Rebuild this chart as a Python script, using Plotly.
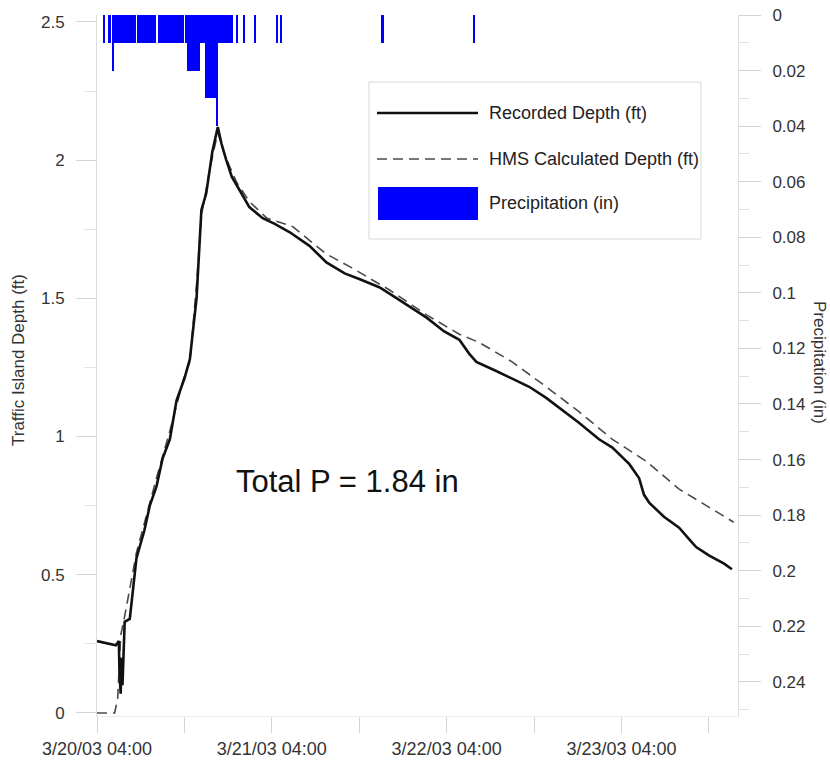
import plotly.graph_objects as go

# ---------------- data ----------------
rec_time = ["2003-03-20 04:00", "2003-03-20 05:45", "2003-03-20 06:35", "2003-03-20 07:00",
            "2003-03-20 07:05", "2003-03-20 07:15", "2003-03-20 07:23", "2003-03-20 07:30",
            "2003-03-20 07:40", "2003-03-20 07:48", "2003-03-20 08:30", "2003-03-20 08:55",
            "2003-03-20 09:25", "2003-03-20 10:30", "2003-03-20 11:15", "2003-03-20 12:10",
            "2003-03-20 13:00", "2003-03-20 14:00", "2003-03-20 14:55", "2003-03-20 16:00",
            "2003-03-20 16:45", "2003-03-20 17:15", "2003-03-20 17:40", "2003-03-20 18:05",
            "2003-03-20 18:20", "2003-03-20 19:00", "2003-03-20 19:30", "2003-03-20 19:50",
            "2003-03-20 20:35", "2003-03-20 21:05", "2003-03-20 21:45", "2003-03-20 22:30",
            "2003-03-20 23:10", "2003-03-21 00:00", "2003-03-21 00:55", "2003-03-21 02:45",
            "2003-03-21 04:20", "2003-03-21 06:25", "2003-03-21 09:10", "2003-03-21 11:30",
            "2003-03-21 14:00", "2003-03-21 16:00", "2003-03-21 18:45", "2003-03-21 20:35",
            "2003-03-21 22:55", "2003-03-22 01:15", "2003-03-22 03:40", "2003-03-22 05:45",
            "2003-03-22 07:05", "2003-03-22 08:05", "2003-03-22 10:35", "2003-03-22 13:00",
            "2003-03-22 15:20", "2003-03-22 17:40", "2003-03-22 20:10", "2003-03-22 22:10",
            "2003-03-23 00:55", "2003-03-23 02:45", "2003-03-23 05:05", "2003-03-23 06:25",
            "2003-03-23 07:05", "2003-03-23 07:50", "2003-03-23 09:50", "2003-03-23 11:55",
            "2003-03-23 13:15", "2003-03-23 14:15", "2003-03-23 16:00", "2003-03-23 18:05",
            "2003-03-23 19:10"]
rec_depth = [0.26, 0.25, 0.245, 0.26, 0.15, 0.07, 0.20, 0.10, 0.28, 0.33, 0.34, 0.45,
             0.56, 0.66, 0.75, 0.82, 0.92, 0.99, 1.13, 1.21, 1.28, 1.40, 1.50, 1.70,
             1.82, 1.88, 1.96, 2.03, 2.12, 2.06, 2.00, 1.94, 1.91, 1.87, 1.83, 1.79,
             1.77, 1.74, 1.69, 1.63, 1.59, 1.57, 1.54, 1.51, 1.47, 1.43, 1.38, 1.35,
             1.30, 1.27, 1.24, 1.21, 1.18, 1.14, 1.09, 1.05, 0.99, 0.96, 0.90, 0.85,
             0.79, 0.76, 0.71, 0.67, 0.63, 0.60, 0.57, 0.54, 0.52]

hms_time = ["2003-03-20 04:00", "2003-03-20 06:25", "2003-03-20 06:50", "2003-03-20 07:15",
            "2003-03-20 07:48", "2003-03-20 09:25", "2003-03-20 12:10", "2003-03-20 14:00",
            "2003-03-20 16:00", "2003-03-20 16:45", "2003-03-20 17:40", "2003-03-20 18:20",
            "2003-03-20 19:30", "2003-03-20 20:35", "2003-03-20 21:30", "2003-03-20 23:10",
            "2003-03-21 00:55", "2003-03-21 03:20", "2003-03-21 06:50", "2003-03-21 11:30",
            "2003-03-21 15:00", "2003-03-21 20:10", "2003-03-22 01:15", "2003-03-22 05:45",
            "2003-03-22 08:30", "2003-03-22 13:00", "2003-03-22 17:40", "2003-03-22 22:10",
            "2003-03-23 02:45", "2003-03-23 07:25", "2003-03-23 11:55", "2003-03-23 19:25"]
hms_depth = [0.0, 0.0, 0.05, 0.28, 0.35, 0.58, 0.85, 1.02, 1.22, 1.27, 1.55, 1.80,
             1.97, 2.10, 2.02, 1.92, 1.85, 1.79, 1.76, 1.66, 1.61, 1.53, 1.44, 1.37,
             1.34, 1.27, 1.18, 1.09, 0.99, 0.91, 0.81, 0.69]

precip_time = ["2003-03-20 05:00", "2003-03-20 05:45", "2003-03-20 06:15",
               "2003-03-20 06:30", "2003-03-20 06:45", "2003-03-20 07:00", "2003-03-20 07:15",
               "2003-03-20 07:30", "2003-03-20 07:45", "2003-03-20 08:00", "2003-03-20 08:15",
               "2003-03-20 08:30", "2003-03-20 08:45", "2003-03-20 09:00", "2003-03-20 09:15",
               "2003-03-20 09:45", "2003-03-20 10:00", "2003-03-20 10:15", "2003-03-20 10:30",
               "2003-03-20 10:45", "2003-03-20 11:00", "2003-03-20 11:15", "2003-03-20 11:30",
               "2003-03-20 11:45", "2003-03-20 12:00",
               "2003-03-20 12:30", "2003-03-20 12:45", "2003-03-20 13:00", "2003-03-20 13:15",
               "2003-03-20 13:30", "2003-03-20 13:45", "2003-03-20 14:00", "2003-03-20 14:15",
               "2003-03-20 14:30", "2003-03-20 14:45", "2003-03-20 15:00", "2003-03-20 15:15",
               "2003-03-20 15:30", "2003-03-20 15:45",
               "2003-03-20 16:15", "2003-03-20 16:30", "2003-03-20 16:45", "2003-03-20 17:00",
               "2003-03-20 17:15", "2003-03-20 17:30", "2003-03-20 17:45", "2003-03-20 18:00",
               "2003-03-20 18:15", "2003-03-20 18:30", "2003-03-20 18:45", "2003-03-20 19:00",
               "2003-03-20 19:15", "2003-03-20 19:30", "2003-03-20 19:45", "2003-03-20 20:00",
               "2003-03-20 20:15", "2003-03-20 20:30", "2003-03-20 20:45", "2003-03-20 21:00",
               "2003-03-20 21:15", "2003-03-20 21:30", "2003-03-20 21:45", "2003-03-20 22:00",
               "2003-03-20 22:15", "2003-03-20 22:30",
               "2003-03-20 23:15", "2003-03-21 00:15", "2003-03-21 01:45", "2003-03-21 04:45",
               "2003-03-21 05:15", "2003-03-21 19:15", "2003-03-22 07:45"]
precip_in = [0.01, 0.01, 0.02,
             0.01, 0.01, 0.01, 0.01, 0.01, 0.01, 0.01, 0.01, 0.01, 0.01, 0.01, 0.01,
             0.01, 0.01, 0.01, 0.01, 0.01, 0.01, 0.01, 0.01, 0.01, 0.01,
             0.01, 0.01, 0.01, 0.01, 0.01, 0.01, 0.01, 0.01, 0.01, 0.01, 0.01, 0.01,
             0.01, 0.01,
             0.01, 0.02, 0.02, 0.02, 0.02, 0.02, 0.02, 0.02,
             0.01, 0.01, 0.01, 0.03, 0.03, 0.03, 0.03, 0.03, 0.03, 0.04,
             0.01, 0.01, 0.01, 0.01, 0.01, 0.01, 0.01, 0.01,
             0.01, 0.01, 0.01, 0.01, 0.01, 0.01, 0.01]

x_tick_vals = ["2003-03-20 04:00", "2003-03-21 04:00", "2003-03-22 04:00", "2003-03-23 04:00"]
x_tick_text = ["3/20/03 04:00", "3/21/03 04:00", "3/22/03 04:00", "3/23/03 04:00"]
y_tick_vals = [0, 0.5, 1, 1.5, 2, 2.5]
y_tick_text = ["0", "0.5", "1", "1.5", "2", "2.5"]
p_tick_vals = [0, 0.02, 0.04, 0.06, 0.08, 0.1, 0.12, 0.14, 0.16, 0.18, 0.2, 0.22, 0.24]
p_tick_text = ["0", "0.02", "0.04", "0.06", "0.08", "0.1", "0.12", "0.14", "0.16",
               "0.18", "0.2", "0.22", "0.24"]

legend_labels = ["Recorded Depth (ft)", "HMS Calculated Depth (ft)", "Precipitation (in)"]

# ---------------- layout geometry (screen pixels) ----------------
W, H = 830, 762
PL, PR, PT, PB = 97, 738, 15, 716   # plot area on screen
ML, MR, MT, MB = PL, W - PR, PT, H - PB


def px(x):
    return (x - PL) / (PR - PL)


def py(y):
    return (PB - y) / (PB - PT)


FONT = "Liberation Sans, Arial, sans-serif"
TICKC = "#d4d4d4"
TXT = "#333333"

fig = go.Figure()

fig.add_trace(go.Bar(x=precip_time, y=precip_in, yaxis="y2", width=15 * 60 * 1000,
                     marker=dict(color="#0000ff", line=dict(width=0)),
                     name=legend_labels[2], showlegend=False))
fig.add_trace(go.Scatter(x=hms_time, y=hms_depth, mode="lines",
                         line=dict(color="#4a4a4a", width=1.6, dash="10px,6px"),
                         name=legend_labels[1], showlegend=False))
fig.add_trace(go.Scatter(x=rec_time, y=rec_depth, mode="lines",
                         line=dict(color="#111111", width=2.6),
                         name=legend_labels[0], showlegend=False))

fig.update_layout(
    width=W, height=H,
    margin=dict(l=ML, r=MR, t=MT, b=MB, autoexpand=False),
    paper_bgcolor="white", plot_bgcolor="white",
    font=dict(family=FONT, size=18, color=TXT),
    showlegend=False,
    bargap=0,
    xaxis=dict(type="date", range=["2003-03-20 04:00", "2003-03-23 20:00"],
               tickmode="array", tickvals=x_tick_vals, ticktext=x_tick_text,
               ticks="outside", ticklen=16, tickcolor=TICKC, tickwidth=1,
               ticklabelstandoff=0, automargin=False,
               tickfont=dict(size=18, color=TXT),
               showgrid=False, zeroline=False, showline=True, linecolor="#ececec",
               minor=dict(ticks="outside", ticklen=16, tickcolor=TICKC,
                          dtick=12 * 3600 * 1000, tick0="2003-03-20 04:00", showgrid=False)),
    yaxis=dict(range=[-0.011, 2.525], tickmode="array", tickvals=y_tick_vals,
               ticktext=y_tick_text, ticks="outside", ticklen=20, tickcolor=TICKC,
               ticklabelstandoff=8, automargin=False,
               tickfont=dict(size=17, color=TXT),
               showgrid=False, zeroline=False, showline=True, linecolor="#dcdcdc",
               minor=dict(ticks="outside", ticklen=12, tickcolor="#e4e4e4",
                          dtick=0.25, tick0=0, showgrid=False)),
    yaxis2=dict(overlaying="y", side="right", range=[0.2523, 0], tickmode="array",
                tickvals=p_tick_vals, ticktext=p_tick_text, ticks="outside",
                ticklen=22, tickcolor=TICKC, ticklabelstandoff=8, automargin=False,
                tickfont=dict(size=17, color=TXT),
                showgrid=False, zeroline=False, showline=True, linecolor="#dcdcdc",
                minor=dict(ticks="outside", ticklen=10, tickcolor="#e0e0e0",
                           dtick=0.01, tick0=0, showgrid=False)),
)

# axis titles
fig.add_annotation(text="Traffic Island Depth (ft)", xref="paper", yref="paper",
                   x=px(18), y=py(360), xanchor="center", yanchor="middle",
                   textangle=-90, showarrow=False, font=dict(size=17, color=TXT))
fig.add_annotation(text="Precipitation (in)", xref="paper", yref="paper",
                   x=px(819), y=py(362), xanchor="center", yanchor="middle",
                   textangle=90, showarrow=False, font=dict(size=17, color=TXT))

# total precipitation note
fig.add_annotation(text="Total P = 1.84 in", xref="paper", yref="paper",
                   x=px(347), y=py(481), xanchor="center", yanchor="middle",
                   showarrow=False, font=dict(size=31, color="#111111"))

# custom legend box
fig.add_shape(type="rect", xref="paper", yref="paper",
              x0=px(369), x1=px(701), y0=py(239), y1=py(82),
              line=dict(color="#d8d8d8", width=1), fillcolor="white", layer="above")
fig.add_shape(type="line", xref="paper", yref="paper",
              x0=px(377), x1=px(478), y0=py(113), y1=py(113),
              line=dict(color="#111111", width=2.6), layer="above")
fig.add_shape(type="line", xref="paper", yref="paper",
              x0=px(377), x1=px(478), y0=py(159), y1=py(159),
              line=dict(color="#4a4a4a", width=1.6, dash="10px,6px"), layer="above")
fig.add_shape(type="rect", xref="paper", yref="paper",
              x0=px(378), x1=px(478), y0=py(220), y1=py(187),
              line=dict(width=0), fillcolor="#0000ff", layer="above")
for lab, yy in zip(legend_labels, [113, 159, 203]):
    fig.add_annotation(text=lab, xref="paper", yref="paper", x=px(487), y=py(yy),
                       xanchor="left", yanchor="middle", showarrow=False,
                       font=dict(size=18, color="#222222"))

fig.write_html("out.html",
               config={"displayModeBar": False},
               post_script="document.body.style.margin='0';"
                           "document.body.style.overflow='hidden';")
